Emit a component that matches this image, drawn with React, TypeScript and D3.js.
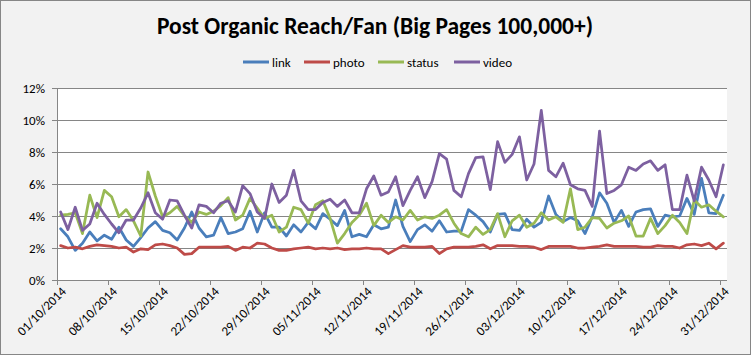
import React from 'react';
import * as d3 from 'd3';

// ---- data ----
const categories: Date[] = d3.timeDay.range(new Date(2014, 9, 1), new Date(2015, 0, 1));
const tickLabels = ['01/10/2014', '08/10/2014', '15/10/2014', '22/10/2014', '29/10/2014', '05/11/2014', '12/11/2014',
  '19/11/2014', '26/11/2014', '03/12/2014', '10/12/2014', '17/12/2014', '24/12/2014', '31/12/2014'];
const yTicks = [0, 2, 4, 6, 8, 10, 12];
const seriesNames = ['link', 'photo', 'status', 'video'];

const link = [
  3.2, 2.7, 1.85, 2.3, 3.0, 2.45, 2.8, 2.55, 3.3, 2.5, 2.1, 2.65, 3.25, 3.65, 3.1, 2.95, 2.5, 3.25, 4.25,
  3.25, 2.7, 2.8, 3.9, 2.9, 3.0, 3.2, 4.3, 3.0, 4.2, 3.3, 3.3, 2.75, 3.45, 3.0, 3.6, 3.2, 4.15, 3.8, 3.4, 4.35, 2.7, 2.85, 2.7, 3.45, 3.2, 3.3,
  5.0, 3.35, 2.4, 3.15, 3.45, 3.05, 3.7, 3.0, 3.05, 3.05, 4.4, 4.05, 3.65, 3.0, 4.1, 4.15, 3.15, 3.1, 3.8, 3.3, 3.6, 5.25, 4.1, 3.65, 3.9, 3.7, 2.9, 3.95,
  5.45, 4.8, 3.6, 4.35, 3.35, 4.25, 4.4, 4.45, 3.35, 4.05, 3.95, 4.0, 5.1, 4.1, 6.35, 4.2, 4.15, 5.3,
];
const photo = [
  2.15, 2.0, 2.05, 1.95, 2.1, 2.2, 2.15, 2.1, 2.0, 2.05, 1.75, 1.95, 1.9, 2.2, 2.25, 2.15, 2.0, 1.6, 1.65,
  2.05, 2.05, 2.05, 2.05, 2.1, 1.85, 2.05, 2.0, 2.3, 2.25, 2.0, 1.85, 1.85, 1.95, 2.0, 2.05, 1.95, 2.0, 1.95,
  2.0, 1.9, 1.95, 1.95, 2.0, 1.95, 1.95, 1.65, 1.9, 2.15, 2.05, 2.05, 2.05, 2.1, 1.65, 1.95, 2.05, 2.05,
  2.05, 2.1, 2.2, 1.95, 2.15, 2.15, 2.15, 2.1, 2.1, 2.05, 1.9, 2.1, 2.1, 2.1, 2.1, 2.0, 2.0, 2.05,
  2.1, 2.2, 2.1, 2.1, 2.1, 2.1, 2.05, 2.05, 2.15, 2.1, 2.1, 2.0, 2.2, 2.25, 2.15, 2.3, 1.95, 2.3,
];
const status = [
  4.05, 4.1, 4.2, 2.9, 5.3, 3.9, 5.6, 5.2, 3.95, 4.4, 3.7, 2.75, 6.75, 5.25, 3.95, 4.2, 4.6, 4.0, 3.6,
  4.25, 4.1, 4.3, 4.65, 5.15, 3.75, 4.05, 5.1, 4.5, 3.85, 4.05, 3.0, 3.3, 4.55, 4.4, 3.55, 4.7, 4.95, 3.85, 2.3, 2.9, 3.6, 4.05, 4.8, 3.4, 4.05, 3.6,
  3.95, 3.75, 4.35, 3.75, 3.95, 3.85, 4.05, 4.4, 3.55, 2.9, 2.7, 3.3, 2.85, 3.15, 4.15, 2.7, 3.7, 4.05, 3.3, 3.55, 4.2, 3.75, 3.95, 3.6, 5.7, 3.15,
  3.3, 3.9, 3.85, 3.25, 3.55, 3.7, 4.0, 2.75, 2.75, 3.85, 2.9, 3.4, 4.05, 3.6, 2.9, 5.0, 4.55, 4.7, 4.3, 3.95,
];
const video = [
  4.25, 3.15, 4.55, 3.1, 3.5, 4.8, 4.1, 3.5, 2.95, 3.75, 3.75, 4.5, 5.45, 4.2, 3.8, 5.0, 4.95, 4.05, 3.25,
  4.7, 4.6, 4.2, 4.8, 4.95, 4.25, 5.9, 5.4, 4.25, 3.85, 6.0, 4.85, 5.3, 6.85, 4.95, 4.4, 4.4, 4.85, 5.05, 4.6, 5.0, 4.2, 4.2, 5.7, 6.5, 5.3, 5.5,
  6.45, 4.65, 5.6, 6.45, 5.15, 6.15, 7.9, 7.55, 5.6, 5.2, 6.65, 7.65, 7.7, 5.65, 8.65, 7.35, 7.85, 8.95, 6.25, 7.25, 10.6, 6.85, 6.45, 7.3, 5.95, 5.7,
  5.6, 4.6, 9.3, 5.4, 5.6, 5.95, 7.05, 6.85, 7.25, 7.45, 6.85, 7.2, 4.4, 4.4, 6.55, 4.95, 7.05, 6.25, 5.2, 7.2,
];

const seriesValues = [link, photo, status, video];
const seriesColors = ['#4A7EBB', '#BE4B48', '#98B954', '#7D60A0'];

const W = 751;
const H = 355;
const FONT = 'Carlito, Calibri, Lato, sans-serif';

export default function App() {
  const left = 57, right = 727, top = 88, bottom = 280;
  const x = d3.scaleBand<number>().domain(d3.range(categories.length)).range([left, right]).padding(0);
  const bw = x.bandwidth();
  const y = d3.scaleLinear().domain([0, 12]).range([bottom, top]);
  const line = d3.line<number>().x((_, i) => (x(i) as number) + bw / 2).y((d) => y(d));
  const tickIdx = tickLabels.map((_, k) => k * 7);

  const legendX = [243, 304, 378, 454];

  return (
    <svg width={W} height={H} style={{ position: 'absolute', left: 0, top: 0, display: 'block' }}
      fontFamily={FONT}>
      <rect x={0.5} y={0.5} width={W - 1} height={H - 1} fill="#f2f2f2" stroke="#868686" />
      <text x={375} y={34} textAnchor="middle" fontSize={23.5} fontWeight="bold" fill="#000">
        Post Organic Reach/Fan (Big Pages 100,000+)
      </text>
      {/* legend */}
      {seriesNames.map((n, i) => (
        <g key={n}>
          <line x1={legendX[i]} x2={legendX[i] + 26} y1={62} y2={62} stroke={seriesColors[i]} strokeWidth={3} />
          <text x={legendX[i] + 29} y={66.5} fontSize={13} fill="#000">{n}</text>
        </g>
      ))}
      {/* plot area */}
      <rect x={left} y={top} width={right - left} height={bottom - top} fill="#fff" />
      {yTicks.map((t) => (
        <g key={t}>
          <line x1={left - 5} x2={right} y1={Math.round(y(t)) + 0.5} y2={Math.round(y(t)) + 0.5} stroke="#868686" strokeWidth={1} />
          <text x={45} y={y(t)} dy="0.35em" textAnchor="end" fontSize={13} fill="#000">{t}%</text>
        </g>
      ))}
      <line x1={left + 0.5} x2={left + 0.5} y1={top} y2={bottom + 0.5} stroke="#868686" />
      {tickIdx.map((i, k) => (
        <g key={i}>
          <line x1={Math.round(x(i) as number) + 0.5} x2={Math.round(x(i) as number) + 0.5} y1={bottom} y2={bottom + 5} stroke="#868686" />
          <text transform={`translate(${(x(i) as number) + bw / 2 + 3},${bottom + 9}) rotate(-45)`}
            textAnchor="end" dy="0.35em" fontSize={13} fill="#000">{tickLabels[k]}</text>
        </g>
      ))}
      {seriesValues.map((vals, s) => (
        <path key={s} d={line(vals) || ''} fill="none" stroke={seriesColors[s]} strokeWidth={2.75}
          strokeLinejoin="round" strokeLinecap="round" />
      ))}
    </svg>
  );
}
